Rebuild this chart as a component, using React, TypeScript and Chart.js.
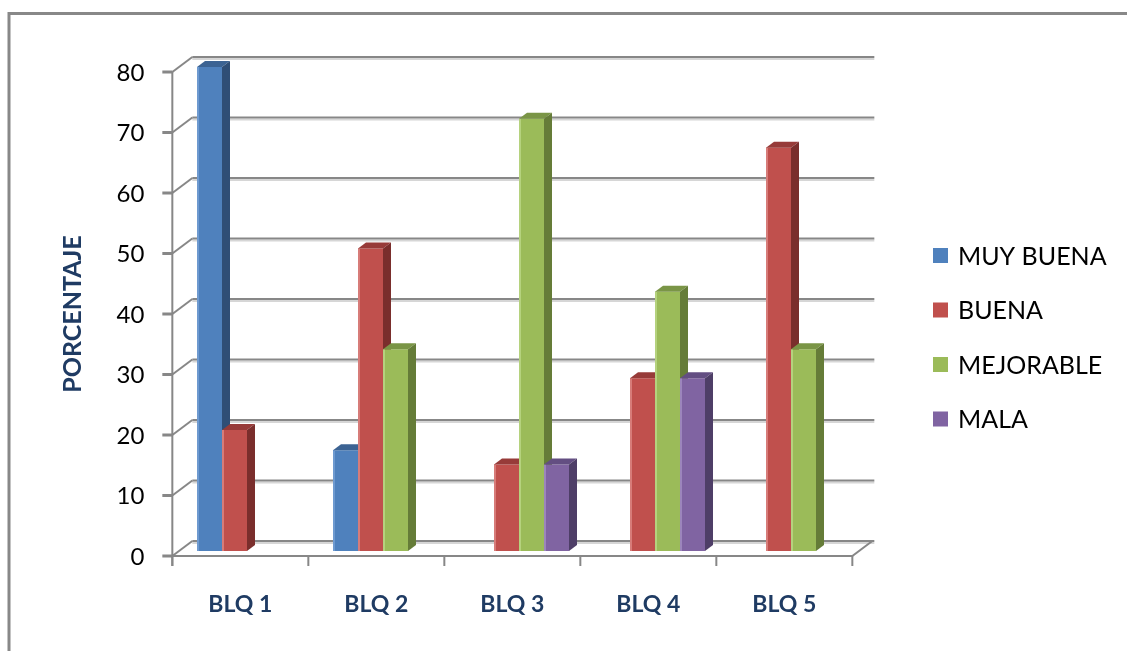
import React, { useEffect, useRef } from "react";
import { Chart, registerables } from "chart.js";

Chart.register(...registerables);

// Survey results per block (percentages)
const categories = ["BLQ 1", "BLQ 2", "BLQ 3", "BLQ 4", "BLQ 5"];
const seriesNames = ["MUY BUENA", "BUENA", "MEJORABLE", "MALA"];
const muyBuena = [80, 16.67, 0, 0, 0];
const buena = [20, 50, 14.29, 28.57, 66.67];
const mejorable = [0, 33.33, 71.43, 42.86, 33.33];
const mala = [0, 0, 14.29, 28.57, 0];
const yTicks = [0, 10, 20, 30, 40, 50, 60, 70, 80];
const yTitle = "PORCENTAJE";

// Office-style palette: front face, top face, side face, highlight edge
const frontColors = ["#4F81BD", "#C0504D", "#9BBB59", "#8064A2"];
const topColors = ["#3C6393", "#973B39", "#7A9546", "#634E82"];
const sideColors = ["#2F4E76", "#7A2E2C", "#657C38", "#4E3E67"];
const edgeColors = ["#6E9AD0", "#D77C79", "#B5D27E", "#9C85BC"];

// Pseudo-3D offsets relative to the plane the bars stand in
const FRONT = { dx: -6.67, dy: 5 };
const BACK = { dx: 13.33, dy: -10 };
const BAR_DEPTH = { dx: 8, dy: -6 };

const GRID = "#878787";
const GRID_SHADOW = "#d6d6d6";
const LABEL_BLUE = "#1F3B63";
const FONT = "Lato, 'Open Sans', sans-serif";

const seriesData = [muyBuena, buena, mejorable, mala];

const excel3d = {
  id: "excel3d",
  beforeDraw(chart: any) {
    const { ctx, width, height } = chart;
    ctx.save();
    ctx.fillStyle = "#ffffff";
    ctx.fillRect(0, 0, width, height);
    // outer chart border
    ctx.strokeStyle = "#888888";
    ctx.lineWidth = 3;
    ctx.beginPath();
    ctx.moveTo(9, height + 5);
    ctx.lineTo(9, 13.5);
    ctx.lineTo(width + 5, 13.5);
    ctx.stroke();
    ctx.restore();
  },
  beforeDatasetsDraw(chart: any) {
    const { ctx, chartArea: a, scales } = chart;
    const x = scales.x;
    const y = scales.y;
    ctx.save();

    // back wall gridlines + side wall connectors
    yTicks.forEach((v) => {
      const py = y.getPixelForValue(v);
      const by = py + BACK.dy;
      ctx.strokeStyle = GRID_SHADOW;
      ctx.lineWidth = 2;
      ctx.beginPath();
      ctx.moveTo(a.left + BACK.dx, by + 2);
      ctx.lineTo(a.right + BACK.dx + 2, by + 2);
      ctx.stroke();
      ctx.strokeStyle = GRID;
      ctx.lineWidth = 2;
      ctx.beginPath();
      ctx.moveTo(a.left + BACK.dx, by);
      ctx.lineTo(a.right + BACK.dx + 2, by);
      ctx.stroke();
      ctx.beginPath();
      ctx.moveTo(a.left + FRONT.dx, py + FRONT.dy);
      ctx.lineTo(a.left + BACK.dx, by);
      ctx.stroke();
    });

    const y0 = y.getPixelForValue(0);
    const fy0 = y0 + FRONT.dy;
    const fLeft = a.left + FRONT.dx;
    const fRight = a.right + FRONT.dx;
    ctx.strokeStyle = GRID;
    ctx.lineWidth = 2;
    // floor: front edge and right edge
    ctx.beginPath();
    ctx.moveTo(fLeft, fy0);
    ctx.lineTo(fRight, fy0);
    ctx.lineTo(a.right + BACK.dx, y0 + BACK.dy);
    ctx.stroke();
    // value axis line
    const fTop = y.getPixelForValue(yTicks[yTicks.length - 1]) + FRONT.dy;
    ctx.beginPath();
    ctx.moveTo(fLeft, fTop);
    ctx.lineTo(fLeft, fy0 + 10);
    ctx.stroke();
    // value ticks
    ctx.lineWidth = 3;
    yTicks.forEach((v) => {
      const ty = y.getPixelForValue(v) + FRONT.dy;
      ctx.beginPath();
      ctx.moveTo(fLeft - 10, ty);
      ctx.lineTo(fLeft, ty);
      ctx.stroke();
    });
    // category ticks on the front edge
    ctx.lineWidth = 2;
    const band = (a.right - a.left) / categories.length;
    for (let i = 0; i <= categories.length; i++) {
      const tx = a.left + i * band + FRONT.dx;
      ctx.beginPath();
      ctx.moveTo(tx, fy0);
      ctx.lineTo(tx, fy0 + 10);
      ctx.stroke();
    }

    // value tick labels
    ctx.fillStyle = "#000000";
    ctx.font = `24px ${FONT}`;
    ctx.textAlign = "right";
    ctx.textBaseline = "middle";
    yTicks.forEach((v) => {
      const ty = y.getPixelForValue(v) + FRONT.dy;
      ctx.fillText(String(v), fLeft - 28, ty + 1);
    });

    // category labels
    ctx.fillStyle = LABEL_BLUE;
    ctx.font = `bold 23px ${FONT}`;
    ctx.textAlign = "center";
    categories.forEach((c, i) => {
      const cx = x.getPixelForValue(i) + FRONT.dx;
      ctx.fillText(c, cx, fy0 + 49);
    });

    // value axis title
    ctx.save();
    ctx.translate(73, (fTop + fy0) / 2);
    ctx.rotate(-Math.PI / 2);
    ctx.font = `bold 25px ${FONT}`;
    ctx.fillText(yTitle, 0, 0);
    ctx.restore();

    ctx.restore();
  },
  beforeDatasetDraw() {
    // bars are painted in left-to-right order below so side faces overlap correctly
    return false;
  },
  afterDatasetsDraw(chart: any) {
    const { ctx } = chart;
    ctx.save();
    chart.data.datasets.forEach((ds: any, i: number) => {
      const meta = chart.getDatasetMeta(i);
      meta.data.forEach((el: any, j: number) => {
        if (!ds.data[j]) return;
        el.draw(ctx);
        const { x, y, base, width } = el.getProps(["x", "y", "base", "width"], true);
        const l = x - width / 2;
        const r = x + width / 2;
        // light left edge of the front face
        ctx.fillStyle = edgeColors[i];
        ctx.fillRect(l, y, 2, base - y);
        // top face
        ctx.fillStyle = topColors[i];
        ctx.beginPath();
        ctx.moveTo(l, y);
        ctx.lineTo(l + BAR_DEPTH.dx, y + BAR_DEPTH.dy);
        ctx.lineTo(r + BAR_DEPTH.dx, y + BAR_DEPTH.dy);
        ctx.lineTo(r, y);
        ctx.closePath();
        ctx.fill();
        // side face
        ctx.fillStyle = sideColors[i];
        ctx.beginPath();
        ctx.moveTo(r, y);
        ctx.lineTo(r + BAR_DEPTH.dx, y + BAR_DEPTH.dy);
        ctx.lineTo(r + BAR_DEPTH.dx, base + BAR_DEPTH.dy);
        ctx.lineTo(r, base);
        ctx.closePath();
        ctx.fill();
      });
    });
    ctx.restore();
  },
  afterDraw(chart: any) {
    const { ctx } = chart;
    ctx.save();
    const rowY = [255.5, 310, 364.5, 419];
    ctx.font = `25px ${FONT}`;
    ctx.textAlign = "left";
    ctx.textBaseline = "middle";
    seriesNames.forEach((name, i) => {
      ctx.fillStyle = frontColors[i];
      ctx.fillRect(933, rowY[i] - 7.5, 15, 15);
      ctx.fillStyle = "#000000";
      ctx.fillText(name, 958, rowY[i] + 1);
    });
    ctx.restore();
  },
};

export default function App() {
  const ref = useRef<HTMLCanvasElement>(null);

  useEffect(() => {
    const chart = new Chart(ref.current as HTMLCanvasElement, {
      type: "bar",
      data: {
        labels: categories,
        datasets: seriesData.map((d, i) => ({
          label: seriesNames[i],
          data: d,
          backgroundColor: frontColors[i],
          borderWidth: 0,
          categoryPercentage: 100 / 136,
          barPercentage: 1,
        })),
      },
      options: {
        animation: false,
        responsive: false,
        devicePixelRatio: 1,
        layout: { padding: { left: 179, top: 67, right: 268, bottom: 100 } },
        plugins: {
          legend: { display: false },
          tooltip: { enabled: false },
        },
        scales: {
          x: { display: false },
          y: { display: false, min: 0, max: 80 },
        },
      },
      plugins: [excel3d],
    });
    return () => chart.destroy();
  }, []);

  return (
    <div style={{ position: "absolute", left: 0, top: 0, width: 1127, height: 651, background: "#ffffff" }}>
      <canvas ref={ref} width={1127} height={651} style={{ display: "block" }} />
    </div>
  );
}
